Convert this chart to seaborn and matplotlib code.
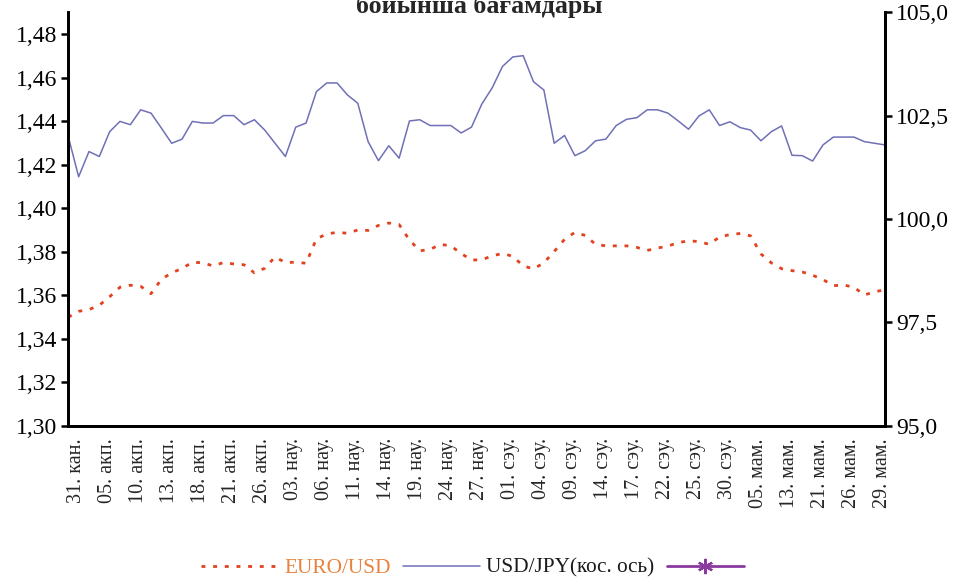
import numpy as np
import pandas as pd
import matplotlib
matplotlib.use("Agg")
import matplotlib.pyplot as plt
import matplotlib.transforms as mtransforms
import seaborn as sns
from matplotlib.lines import Line2D
from matplotlib.ticker import FuncFormatter, FixedLocator

# ---------------- data ----------------
tick_labels = ["31. кан.", "05. акп.", "10. акп.", "13. акп.", "18. акп.", "21. акп.", "26. акп.",
               "03. нау.", "06. нау.", "11. нау.", "14. нау.", "19. нау.", "24. нау.", "27. нау.",
               "01. сэу.", "04. сэу.", "09. сэу.", "14. сэу.", "17. сэу.", "22. сэу.", "25. сэу.",
               "30. сэу.", "05. мам.", "13. мам.", "21. мам.", "26. мам.", "29. мам."]

euro_usd = [1.3498, 1.3525, 1.3533, 1.3553, 1.3592, 1.3636, 1.3645, 1.3640, 1.3606, 1.3672,
            1.3702, 1.3722, 1.3751, 1.3748, 1.3734, 1.3749, 1.3743, 1.3739, 1.3702, 1.3723,
            1.3775, 1.3749, 1.3751, 1.3746, 1.3858, 1.3881, 1.3888, 1.3884, 1.3899, 1.3897,
            1.3920, 1.3931, 1.3924, 1.3853, 1.3803, 1.3810, 1.3833, 1.3826, 1.3791, 1.3761,
            1.3762, 1.3780, 1.3791, 1.3778, 1.3734, 1.3720, 1.3748, 1.3800, 1.3856, 1.3888,
            1.3874, 1.3833, 1.3826, 1.3826, 1.3826, 1.3819, 1.3805, 1.3816, 1.3825, 1.3841,
            1.3849, 1.3846, 1.3833, 1.3867, 1.3878, 1.3883, 1.3872, 1.3789, 1.3748, 1.3721,
            1.3712, 1.3706, 1.3691, 1.3671, 1.3643, 1.3646, 1.3636, 1.3600, 1.3615, 1.3624]

usd_jpy = [101.99, 101.02, 101.63, 101.51, 102.11, 102.36, 102.28, 102.64, 102.56, 102.20,
           101.83, 101.93, 102.36, 102.32, 102.32, 102.50, 102.50, 102.28, 102.40, 102.15,
           101.83, 101.51, 102.22, 102.32, 103.08, 103.29, 103.29, 103.00, 102.80, 101.87,
           101.41, 101.77, 101.47, 102.37, 102.40, 102.26, 102.26, 102.26, 102.08, 102.22,
           102.78, 103.17, 103.69, 103.92, 103.95, 103.32, 103.12, 101.83, 102.02, 101.53,
           101.65, 101.89, 101.93, 102.26, 102.41, 102.45, 102.64, 102.64, 102.56, 102.37,
           102.17, 102.49, 102.64, 102.26, 102.35, 102.21, 102.15, 101.89, 102.11, 102.25,
           101.54, 101.53, 101.40, 101.79, 101.98, 101.98, 101.98, 101.87, 101.83, 101.79]

left_ticks = [1.30, 1.32, 1.34, 1.36, 1.38, 1.40, 1.42, 1.44, 1.46, 1.48]
right_ticks = [95.0, 97.5, 100.0, 102.5, 105.0]

title_text = "бойынша бағамдары"
label_euro = "EURO/USD"
label_jpy = "USD/JPY(кос. ось)"

# ---------------- style ----------------
sns.set_style("white")
plt.rcParams['font.family'] = ['Liberation Serif', 'DejaVu Serif']

RED = '#E2421E'
BLUE = '#6F70B6'
PURPLE = '#8A3A9E'
ORANGE_TXT = '#E8823C'

df = pd.DataFrame({"idx": np.arange(len(euro_usd)), "euro": euro_usd, "jpy": usd_jpy})

fig = plt.figure(figsize=(9.59, 5.83), dpi=100)
ax = fig.add_axes([68.3 / 959, 1 - 425.5 / 583, (885 - 68.3) / 959, (425.5 - 12.3) / 583])
ax2 = ax.twinx()

sns.lineplot(data=df, x="idx", y="euro", ax=ax, color=RED, lw=2.0,
             linestyle=(0, (1.4, 2.8)), dash_capstyle='butt')
sns.lineplot(data=df, x="idx", y="jpy", ax=ax2, color=BLUE, lw=1.1)

n = len(euro_usd)
ax.set_xlim(0, n - 1)
ax.set_ylim(1.30, 1.49)
ax2.set_ylim(95.0, 105.0)

ax.yaxis.set_major_locator(FixedLocator(left_ticks))
ax2.yaxis.set_major_locator(FixedLocator(right_ticks))
ax.yaxis.set_major_formatter(FuncFormatter(lambda v, p: f"{v:.2f}".replace('.', ',')))
ax2.yaxis.set_major_formatter(FuncFormatter(lambda v, p: f"{v:.1f}".replace('.', ',')))

ax.set_xlabel("")
ax.set_ylabel("")
ax2.set_xlabel("")
ax2.set_ylabel("")

for a in (ax, ax2):
    a.grid(False)
    a.spines['top'].set_visible(False)
    for s in ('left', 'right', 'bottom'):
        a.spines[s].set_color('black')
        a.spines[s].set_linewidth(2.0)

ax.tick_params(axis='y', which='major', left=True, direction='out', length=5, width=1.8,
               labelsize=17, pad=3, colors='black')
ax2.tick_params(axis='y', which='major', right=True, direction='out', length=5, width=1.8,
                labelsize=17, pad=3, colors='black')
ax.tick_params(axis='x', length=0, pad=9, labelsize=14.5)

ax.set_xticks(list(range(0, 3 * len(tick_labels), 3)))
ax.set_xticklabels(tick_labels, rotation=90, fontsize=14.5)
fig.canvas.draw()
shift = mtransforms.ScaledTranslation(8 / 100, 0, fig.dpi_scale_trans)
for lab in ax.get_xticklabels():
    lab.set_transform(lab.get_transform() + shift)

# title (partially cut at top as in the reference)
fig.text(0.5, 1 - 13 / 583, title_text, ha='center', va='baseline',
         fontsize=18.7, fontweight='bold')

# legend
h1 = Line2D([], [], color=RED, lw=2.0, linestyle=(0, (1.4, 2.8)), dash_capstyle='butt')
h2 = Line2D([], [], color=BLUE, lw=1.1)
h3 = Line2D([], [], color=PURPLE, lw=2.0, marker=(6, 2, 0), markersize=11,
            markeredgewidth=1.6, markeredgecolor=PURPLE)
leg = fig.legend([h1, h2, h3], [label_euro, label_jpy, ""], loc='center',
                 bbox_to_anchor=(0.496, 1 - 568 / 583), ncol=3, frameon=False,
                 fontsize=15.3, handlelength=3.6, handletextpad=0.3, columnspacing=0.6)
leg.get_texts()[0].set_color(ORANGE_TXT)
leg.get_texts()[1].set_color('#1a1a1a')

fig.savefig("out.png", dpi=100)
